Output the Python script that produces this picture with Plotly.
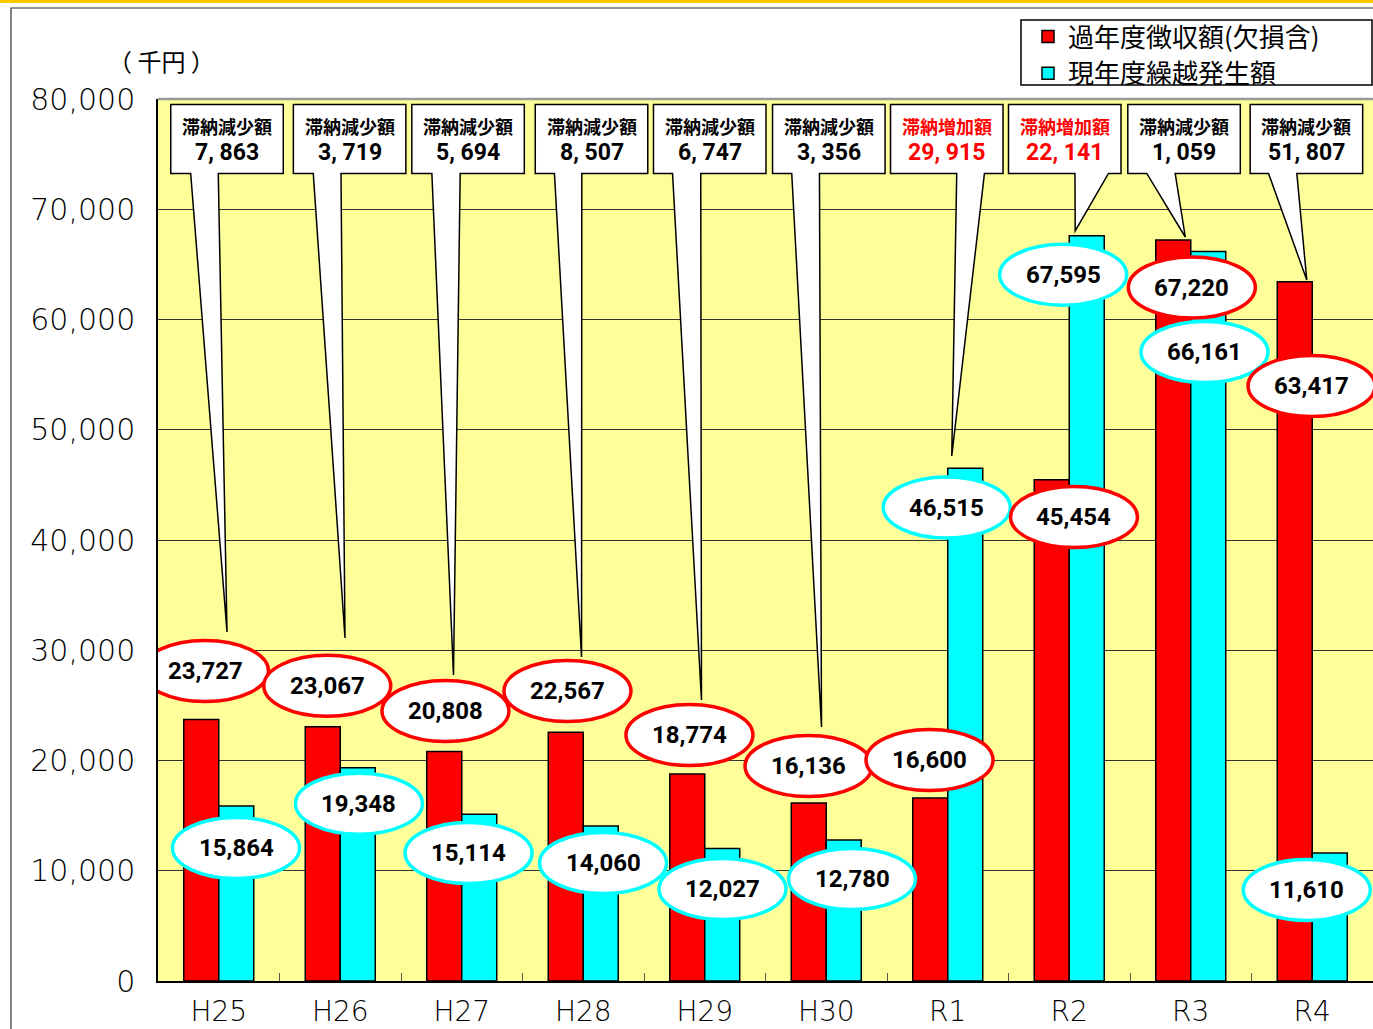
import plotly.graph_objects as go

# ---------------- data ----------------
categories = ["H25", "H26", "H27", "H28", "H29", "H30", "R1", "R2", "R3", "R4"]
collected = [23727, 23067, 20808, 22567, 18774, 16136, 16600, 45454, 67220, 63417]   # 過年度徴収額(欠損含)
carried = [15864, 19348, 15114, 14060, 12027, 12780, 46515, 67595, 66161, 11610]     # 現年度繰越発生額
series_names = ["過年度徴収額(欠損含)", "現年度繰越発生額"]
y_ticks = [0, 10000, 20000, 30000, 40000, 50000, 60000, 70000, 80000]

# ---------------- layout helpers (label placement, not data) ----------------
# ellipse label centres: x offset from category centre (category units), y in axis units
red_lab_dx = [-0.113, -0.107, -0.134, -0.130, -0.126, -0.146, -0.150, 0.039, 0.009, -0.006]
red_lab_y = [28118, 26776, 24490, 26304, 22313, 19501, 20045, 42086, 62902, 53968]
cyan_lab_dx = [0.142, 0.154, 0.056, 0.163, 0.146, 0.212, -0.008, -0.050, 0.113, -0.045]
cyan_lab_y = [12063, 16082, 11610, 10703, 8345, 9252, 42948, 64063, 57052, 8254]
ell_w = 1.045
ell_h = 5533

# callout boxes
box_left = [-0.395, -0.386, -0.411, -0.395, -0.422, -0.442, -0.471, -0.500, -0.518, -0.511]
box_w = 0.926
box_top, box_bot = 79500, 73250
wedge_l = [-0.231, -0.222, -0.246, -0.237, -0.265, -0.284, 0.074, 0.047, -0.362, -0.360]
wedge_r = [-0.004, 0.006, -0.013, -0.012, -0.033, -0.056, 0.302, 0.323, -0.128, -0.127]
tip_dx = [0.068, 0.039, -0.068, -0.014, -0.027, -0.039, 0.033, 0.049, -0.045, -0.045]
tip_y = [31655, 31111, 27755, 29388, 25488, 23039, 47619, 68027, 67483, 63583]

RED = "#FF0000"
CYAN = "#00FFFF"
CJK = "Noto Sans CJK JP"
NUM = "Roboto, Liberation Sans, sans-serif"

W, H = 1373, 1029
L_M, R_M, T_M, B_M = 158, 0, 99, 48
PW, PH = W - L_M - R_M, H - T_M - B_M


def px2x(px):
    return (px - L_M) / PW


def py2y(py):
    return (H - B_M - py) / PH


fig = go.Figure()
fig.add_trace(go.Bar(x=categories, y=collected, name=series_names[0],
                     marker=dict(color=RED, line=dict(color="black", width=1.5))))
fig.add_trace(go.Bar(x=categories, y=carried, name=series_names[1],
                     marker=dict(color=CYAN, line=dict(color="black", width=1.5))))

shapes = []
annotations = []

# callouts
for i in range(len(categories)):
    diff = carried[i] - collected[i]
    inc = diff > 0
    col = RED if inc else "black"
    head = "滞納増加額" if inc else "滞納減少額"
    val = f"{abs(diff):,}".replace(",", ", ")
    Lx = i + box_left[i]
    Rx = Lx + box_w
    path = (f"M {Lx},{box_top} L {Rx},{box_top} L {Rx},{box_bot} "
            f"L {i + wedge_r[i]},{box_bot} L {i + tip_dx[i]},{tip_y[i]} "
            f"L {i + wedge_l[i]},{box_bot} L {Lx},{box_bot} Z")
    shapes.append(dict(type="path", path=path, xref="x", yref="y", layer="above",
                       fillcolor="white", line=dict(color="black", width=1.5)))
    cx = Lx + box_w / 2
    annotations.append(dict(x=cx, y=77551, xref="x", yref="y", text=head, showarrow=False,
                            font=dict(family=CJK, size=18, color=col, weight="bold"),
                            xanchor="center", yanchor="middle"))
    annotations.append(dict(x=cx, y=75147, xref="x", yref="y", text=val, showarrow=False,
                            font=dict(family=NUM, size=23, color=col, weight="bold"),
                            xanchor="center", yanchor="middle"))

# ellipse labels
for i in range(len(categories)):
    for dx, yy, v, c in ((red_lab_dx[i], red_lab_y[i], collected[i], RED),
                         (cyan_lab_dx[i], cyan_lab_y[i], carried[i], CYAN)):
        cx = i + dx
        shapes.append(dict(type="circle", xref="x", yref="y", layer="above",
                           x0=cx - ell_w / 2, x1=cx + ell_w / 2,
                           y0=yy - ell_h / 2, y1=yy + ell_h / 2,
                           fillcolor="white", line=dict(color=c, width=3.5)))
        annotations.append(dict(x=cx, y=yy, xref="x", yref="y", text=f"{v:,}",
                                showarrow=False, xanchor="center", yanchor="middle",
                                font=dict(family=NUM, size=24, color="black", weight="bold")))

# frame, top stripe, plot top border, legend box
shapes.append(dict(type="rect", xref="paper", yref="paper", layer="above",
                   x0=px2x(11), x1=px2x(1390), y0=py2y(1040), y1=py2y(8),
                   line=dict(color="#333333", width=1.2), fillcolor="rgba(0,0,0,0)"))
shapes.append(dict(type="rect", xref="paper", yref="paper", layer="above",
                   x0=px2x(-5), x1=px2x(1390), y0=py2y(3), y1=py2y(-5),
                   line=dict(width=0), fillcolor="#FFC800"))
shapes.append(dict(type="line", xref="paper", yref="paper", layer="above",
                   x0=0, x1=1, y0=1, y1=1, line=dict(color="#999999", width=2.5)))
shapes.append(dict(type="rect", xref="paper", yref="paper", layer="above",
                   x0=px2x(1021), x1=px2x(1372), y0=py2y(85), y1=py2y(20),
                   line=dict(color="black", width=1.5), fillcolor="rgba(0,0,0,0)"))

annotations.append(dict(x=px2x(161), y=py2y(60), xref="paper", yref="paper",
                        text="（ 千円 ）", showarrow=False, xanchor="center", yanchor="middle",
                        font=dict(family=CJK, size=24, color="black")))

fig.update_layout(
    width=W, height=H, autosize=False,
    margin=dict(l=L_M, r=R_M, t=T_M, b=B_M, pad=0, autoexpand=False),
    paper_bgcolor="white", plot_bgcolor="#FFFF99",
    barmode="group", bargap=0.424, bargroupgap=0,
    shapes=shapes, annotations=annotations,
    showlegend=True,
    legend=dict(x=px2x(1028), y=py2y(13), xanchor="left", yanchor="top",
                bgcolor="rgba(0,0,0,0)", borderwidth=0, tracegroupgap=0,
                font=dict(family=CJK, size=26, color="black"), itemwidth=30),
    xaxis=dict(type="category", range=[-0.5, 9.5], showline=True, linecolor="black",
               linewidth=2, ticks="inside", tickson="boundaries", ticklen=8,
               tickcolor="#555555", tickwidth=1.2, showgrid=False, automargin=False,
               tickfont=dict(family="DejaVu Sans", size=28, color="black", weight=200),
               ticklabelstandoff=4),
    yaxis=dict(range=[0, 80000], tickvals=y_ticks, tickformat=",", showgrid=True,
               gridcolor="#333333", gridwidth=1, showline=True, linecolor="black",
               linewidth=1.5, ticks="", zeroline=False, automargin=False,
               tickfont=dict(family="DejaVu Sans", size=30, color="black", weight=200),
               ticklabelstandoff=15),
)

fig.write_html("out.html", config={"displayModeBar": False},
               post_script="document.body.style.margin='0';")
